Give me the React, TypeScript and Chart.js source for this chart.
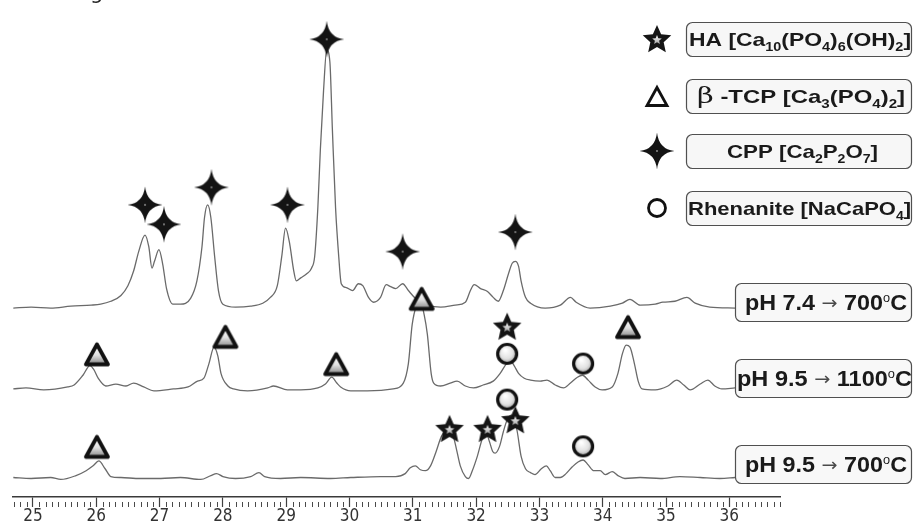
import React, { useEffect, useRef } from "react";
import { Chart, registerables } from "chart.js";

Chart.register(...registerables);

// ---------- axis ----------
const X_MIN = 24.685;
const X_MAX = 36.8;
const TICK_LABELS = ["25", "26", "27", "28", "29", "30", "31", "32", "33", "34", "35", "36"];
const Y_MAX = 497;

// ---------- patterns (2θ in degrees, intensity above own baseline, a.u.) ----------
const PATTERN_LABELS = ["pH 7.4 !{→} 700^{o}C", "pH 9.5 !{→} 1100^{o}C", "pH 9.5 !{→} 700^{o}C"];
const PATTERN_OFFSETS = [196, 111, 20];

const THETA_74_700 = [24.69, 24.97, 25.28, 25.6, 25.92, 26.07, 26.23, 26.39, 26.5, 26.59, 26.67, 26.77, 26.83, 26.88, 26.92, 26.99, 27.05, 27.11, 27.21, 27.33, 27.49, 27.59, 27.67, 27.71, 27.76, 27.81, 27.87, 27.93, 28.0, 28.2, 28.44, 28.63, 28.75, 28.86, 28.93, 28.99, 29.05, 29.12, 29.16, 29.23, 29.32, 29.4, 29.45, 29.5, 29.54, 29.59, 29.64, 29.69, 29.73, 29.78, 29.83, 29.87, 29.95, 30.05, 30.14, 30.21, 30.3, 30.38, 30.49, 30.58, 30.65, 30.73, 30.84, 30.93, 31.04, 31.12, 31.23, 31.44, 31.67, 31.83, 31.91, 31.97, 32.07, 32.18, 32.27, 32.35, 32.43, 32.51, 32.57, 32.62, 32.67, 32.71, 32.78, 32.86, 33.09, 33.33, 33.49, 33.58, 33.8, 34.12, 34.31, 34.43, 34.59, 34.83, 34.95, 35.14, 35.33, 35.46, 35.69, 36.09];
const INT_74_700 = [-2, -1, -2, 0, 1, 2, 5, 11, 21, 36, 56, 73, 61, 39, 46, 58, 43, 18, 2, 2, 8, 26, 61, 91, 104, 91, 51, 16, 2, -1, 0, 3, 9, 21, 51, 80, 66, 36, 26, 29, 33, 39, 51, 101, 161, 221, 263, 251, 181, 101, 51, 23, 19, 16, 23, 21, 9, 4, 9, 22, 20, 18, 23, 16, 8, 4, 1, -1, 1, 4, 16, 22, 18, 15, 9, 5, 16, 33, 44, 46, 41, 26, 9, 3, -2, 1, 9, 4, -2, 0, 3, 7, 1, 2, 4, 5, 9, 3, -1, -2];

const THETA_95_1100 = [24.69, 24.89, 25.17, 25.55, 25.65, 25.79, 25.9, 25.96, 26.03, 26.15, 26.31, 26.47, 26.59, 26.75, 26.91, 27.22, 27.45, 27.6, 27.7, 27.78, 27.86, 27.92, 27.97, 28.08, 28.17, 28.39, 28.71, 28.8, 29.02, 29.23, 29.5, 29.62, 29.72, 29.8, 29.86, 30.02, 30.28, 30.69, 30.85, 30.93, 30.99, 31.06, 31.12, 31.18, 31.23, 31.29, 31.33, 31.44, 31.59, 31.7, 31.83, 31.96, 32.11, 32.27, 32.38, 32.48, 32.54, 32.6, 32.67, 32.76, 32.86, 33.01, 33.12, 33.25, 33.38, 33.49, 33.6, 33.68, 33.77, 33.88, 33.99, 34.15, 34.24, 34.31, 34.37, 34.43, 34.5, 34.56, 34.62, 34.83, 35.03, 35.17, 35.28, 35.38, 35.54, 35.66, 35.77, 35.88, 36.09];
const INT_95_1100 = [0, 1, -1, 2, 4, 14, 24, 20, 11, 3, 5, 3, 6, 2, -2, 0, 2, 8, 11, 26, 43, 34, 16, 3, 0, -2, 1, 3, -1, -1, 1, 5, 12, 6, 2, -2, -2, 0, 6, 26, 66, 86, 90, 76, 56, 16, 6, 3, 6, 8, 3, 1, 4, 8, 16, 26, 29, 24, 16, 11, 9, 8, 9, 4, 1, 6, 12, 14, 9, 2, -1, 2, 16, 36, 45, 43, 26, 8, 0, -1, 3, 9, 4, -1, 5, 9, 3, 0, 1];

const THETA_95_700 = [24.69, 24.97, 25.28, 25.44, 25.68, 25.84, 25.95, 26.04, 26.14, 26.23, 26.39, 26.7, 27.02, 27.33, 27.65, 27.81, 27.9, 28.0, 28.2, 28.44, 28.57, 28.66, 28.91, 29.23, 29.7, 30.02, 30.49, 30.73, 30.88, 30.96, 31.04, 31.12, 31.2, 31.28, 31.37, 31.45, 31.53, 31.58, 31.63, 31.69, 31.75, 31.83, 31.88, 31.94, 32.02, 32.1, 32.16, 32.21, 32.26, 32.3, 32.37, 32.43, 32.49, 32.56, 32.6, 32.65, 32.71, 32.78, 32.86, 32.93, 33.03, 33.11, 33.17, 33.25, 33.33, 33.42, 33.52, 33.61, 33.69, 33.77, 33.86, 33.96, 34.04, 34.15, 34.24, 34.35, 34.59, 34.91, 35.22, 35.54, 35.85, 36.09];
const INT_95_700 = [0, -1, 0, -2, 2, 7, 12, 17, 9, 1, 0, -1, -1, 0, -2, 2, 4, 1, -1, 1, 5, 1, -1, 0, -1, 0, 1, 1, 4, 10, 12, 8, 7, 12, 27, 42, 49, 51, 45, 29, 12, 1, -1, 7, 22, 40, 45, 37, 27, 25, 32, 47, 59, 64, 61, 47, 22, 9, 5, 3, 9, 12, 7, 0, 0, 4, 11, 16, 18, 13, 7, 7, 3, 6, 2, -1, 0, -1, 1, 0, -1, 0];

// ---------- phase markers: 2θ, pattern index, height above baseline ----------
const PHASE_LABELS = [
  "HA [Ca_{10}(PO_{4})_{6}(OH)_{2}]",
  "~{β} -TCP [Ca_{3}(PO_{4})_{2}]",
  "CPP [Ca_{2}P_{2}O_{7}]",
  "Rhenanite [NaCaPO_{4}]",
];
const HA_THETA = [32.49, 31.58, 32.18, 32.62];
const HA_PATTERN = [1, 2, 2, 2];
const HA_HEIGHT = [64, 50, 50, 59];

const TCP_THETA = [26.01, 28.04, 29.79, 31.14, 34.4, 26.01];
const TCP_PATTERN = [1, 1, 1, 1, 1, 2];
const TCP_HEIGHT = [36, 54, 26, 93, 64, 32];

const CPP_THETA = [26.77, 27.07, 27.82, 29.02, 29.64, 30.84, 32.62];
const CPP_PATTERN = [0, 0, 0, 0, 0, 0, 0];
const CPP_HEIGHT = [104, 84, 122, 104, 274, 56, 76];

const RHE_THETA = [32.49, 33.69, 32.49, 33.69];
const RHE_PATTERN = [1, 1, 2, 2];
const RHE_HEIGHT = [36, 26, 80, 32];

// ---------- drawing helpers ----------
type Ctx = CanvasRenderingContext2D;

function makeCanvas(w: number, h: number, draw: (ctx: Ctx, w: number, h: number) => void) {
  const c = document.createElement("canvas");
  c.width = w;
  c.height = h;
  draw(c.getContext("2d") as Ctx, w, h);
  return c;
}

function starPath(ctx: Ctx, cx: number, cy: number, R: number, r: number) {
  ctx.beginPath();
  for (let i = 0; i < 10; i++) {
    const a = -Math.PI / 2 + (i * Math.PI) / 5;
    const rr = i % 2 === 0 ? R : r;
    const x = cx + rr * Math.cos(a);
    const y = cy + rr * Math.sin(a);
    if (i === 0) ctx.moveTo(x, y);
    else ctx.lineTo(x, y);
  }
  ctx.closePath();
}

function makeImages() {
  const cpp = makeCanvas(38, 40, (ctx, w, h) => {
    const cx = w / 2, cy = h / 2, rx = 17.5, ry = 18.5, k = 1.8;
    ctx.beginPath();
    ctx.moveTo(cx, cy - ry);
    ctx.quadraticCurveTo(cx + k, cy - k, cx + rx, cy);
    ctx.quadraticCurveTo(cx + k, cy + k, cx, cy + ry);
    ctx.quadraticCurveTo(cx - k, cy + k, cx - rx, cy);
    ctx.quadraticCurveTo(cx - k, cy - k, cx, cy - ry);
    ctx.closePath();
    ctx.fillStyle = "#141414";
    ctx.fill();
    ctx.fillStyle = "#9a9a9a";
    ctx.beginPath();
    ctx.arc(cx, cy, 0.9, 0, Math.PI * 2);
    ctx.fill();
  });
  const ha = makeCanvas(34, 34, (ctx, w, h) => {
    const cx = w / 2, cy = h / 2 + 1;
    starPath(ctx, cx, cy, 15, 7);
    ctx.fillStyle = "#151515";
    ctx.fill();
    starPath(ctx, cx, cy, 5, 2.2);
    const g = ctx.createLinearGradient(0, cy - 5, 0, cy + 5);
    g.addColorStop(0, "#ffffff");
    g.addColorStop(1, "#9a9a9a");
    ctx.fillStyle = g;
    ctx.fill();
  });
  const tri = makeCanvas(32, 30, (ctx, w, h) => {
    const cx = w / 2, cy = h / 2 + 1;
    ctx.beginPath();
    ctx.moveTo(cx, cy - 10.5);
    ctx.lineTo(cx + 11, cy + 9.5);
    ctx.lineTo(cx - 11, cy + 9.5);
    ctx.closePath();
    const g = ctx.createLinearGradient(0, cy - 8, 0, cy + 9);
    g.addColorStop(0, "#ffffff");
    g.addColorStop(0.5, "#e0e0e0");
    g.addColorStop(1, "#8c8c8c");
    ctx.fillStyle = g;
    ctx.fill();
    ctx.lineJoin = "round";
    ctx.lineWidth = 3.8;
    ctx.strokeStyle = "#111";
    ctx.stroke();
  });
  const circ = makeCanvas(26, 26, (ctx, w, h) => {
    const cx = w / 2, cy = h / 2;
    const g = ctx.createRadialGradient(cx - 2, cy - 4, 1, cx, cy, 10);
    g.addColorStop(0, "#ffffff");
    g.addColorStop(0.6, "#e2e2e2");
    g.addColorStop(1, "#9c9c9c");
    ctx.beginPath();
    ctx.arc(cx, cy, 9.5, 0, Math.PI * 2);
    ctx.fillStyle = g;
    ctx.fill();
    ctx.lineWidth = 3.2;
    ctx.strokeStyle = "#121212";
    ctx.stroke();
  });
  const triLegend = makeCanvas(30, 28, (ctx, w, h) => {
    const cx = w / 2, cy = h / 2 + 1;
    ctx.beginPath();
    ctx.moveTo(cx, cy - 9.5);
    ctx.lineTo(cx + 10, cy + 8.5);
    ctx.lineTo(cx - 10, cy + 8.5);
    ctx.closePath();
    ctx.fillStyle = "#ffffff";
    ctx.fill();
    ctx.lineJoin = "miter";
    ctx.lineWidth = 2.8;
    ctx.strokeStyle = "#111";
    ctx.stroke();
  });
  const circLegend = makeCanvas(26, 26, (ctx, w, h) => {
    ctx.beginPath();
    ctx.arc(w / 2, h / 2, 8.5, 0, Math.PI * 2);
    ctx.fillStyle = "#ffffff";
    ctx.fill();
    ctx.lineWidth = 2.8;
    ctx.strokeStyle = "#111";
    ctx.stroke();
  });
  return { cpp, ha, tri, circ, triLegend, circLegend };
}

const SANS = '"Liberation Sans", Arial, sans-serif';

function parseRich(s: string) {
  const segs: { t: string; k: string }[] = [];
  const re = /([_^~!])\{([^}]*)\}/g;
  let last = 0;
  let m: RegExpExecArray | null;
  while ((m = re.exec(s))) {
    if (m.index > last) segs.push({ t: s.slice(last, m.index), k: "n" });
    segs.push({ t: m[2], k: m[1] });
    last = re.lastIndex;
  }
  if (last < s.length) segs.push({ t: s.slice(last), k: "n" });
  return segs;
}

function segFont(k: string, size: number) {
  switch (k) {
    case "_":
      return { font: `bold ${Math.round(size * 0.62)}px ${SANS}`, dy: size * 0.27 };
    case "^":
      return { font: `${Math.round(size * 0.55)}px ${SANS}`, dy: -size * 0.36 };
    case "~":
      return { font: `${Math.round(size * 1.2)}px "DejaVu Serif", "Liberation Serif", serif`, dy: 0 };
    case "!":
      return { font: `${Math.round(size * 0.8)}px "DejaVu Sans", sans-serif`, dy: -size * 0.04 };
    default:
      return { font: `bold ${size}px ${SANS}`, dy: 0 };
  }
}

function drawRich(ctx: Ctx, s: string, x0: number, x1: number, yMid: number, size: number) {
  const segs = parseRich(s);
  const widths: number[] = [];
  let total = 0;
  segs.forEach((sg) => {
    ctx.font = segFont(sg.k, size).font;
    const w = ctx.measureText(sg.t).width;
    widths.push(w);
    total += w;
  });
  ctx.save();
  ctx.translate(x0, yMid);
  ctx.scale((x1 - x0) / total, 1);
  ctx.textAlign = "left";
  ctx.textBaseline = "alphabetic";
  let x = 0;
  const base = size * 0.36;
  segs.forEach((sg, i) => {
    const f = segFont(sg.k, size);
    ctx.font = f.font;
    ctx.fillStyle = sg.k === "!" ? "#4a4a4a" : "#1a1a1a";
    ctx.fillText(sg.t, x, base + f.dy);
    x += widths[i];
  });
  ctx.restore();
}

function roundRect(ctx: Ctx, x: number, y: number, w: number, h: number, r: number) {
  ctx.beginPath();
  ctx.moveTo(x + r, y);
  ctx.lineTo(x + w - r, y);
  ctx.arcTo(x + w, y, x + w, y + r, r);
  ctx.lineTo(x + w, y + h - r);
  ctx.arcTo(x + w, y + h, x + w - r, y + h, r);
  ctx.lineTo(x + r, y + h);
  ctx.arcTo(x, y + h, x, y + h - r, r);
  ctx.lineTo(x, y + r);
  ctx.arcTo(x, y, x + r, y, r);
  ctx.closePath();
}

function markerPoints(theta: number[], pattern: number[], height: number[]) {
  return theta.map((t, i) => ({ x: t, y: height[i] + PATTERN_OFFSETS[pattern[i]] }));
}

function tracePoints(theta: number[], intensity: number[], p: number) {
  return theta.map((t, i) => ({ x: t, y: intensity[i] + PATTERN_OFFSETS[p] }));
}

export default function App() {
  const ref = useRef<HTMLCanvasElement | null>(null);

  useEffect(() => {
    if (!ref.current) return;
    const img = makeImages();

    const overlay = {
      id: "overlay",
      afterDraw(chart: any) {
        const ctx: Ctx = chart.ctx;
        const xs = chart.scales.x;
        const bottom = chart.chartArea.bottom;
        ctx.save();
        // minor ticks every 0.1°
        ctx.strokeStyle = "#4a4a4a";
        ctx.lineWidth = 1;
        for (let i = 247; i <= 368; i++) {
          if (i % 10 === 0) continue;
          const px = Math.round(xs.getPixelForValue(i / 10)) + 0.5;
          ctx.beginPath();
          ctx.moveTo(px, bottom + 5);
          ctx.lineTo(px, bottom + 10);
          ctx.stroke();
        }

        // pattern label boxes
        const boxTops = [283, 359, 445];
        const textX = [[745, 907], [737, 912], [745, 907]];
        PATTERN_LABELS.forEach((lab, i) => {
          roundRect(ctx, 735.5, boxTops[i] + 0.5, 176, 38, 6);
          ctx.fillStyle = "#f8f8f8";
          ctx.fill();
          ctx.strokeStyle = "#505050";
          ctx.lineWidth = 1.2;
          ctx.stroke();
          drawRich(ctx, lab, textX[i][0], textX[i][1], boxTops[i] + 19, 22);
        });

        // phase legend
        const rowY = [39, 96, 151, 208];
        const symbols = [img.ha, img.triLegend, img.cpp, img.circLegend];
        const legX = [[689, 911], [697, 905], [727, 878], [688, 911]];
        PHASE_LABELS.forEach((lab, i) => {
          const s = symbols[i];
          ctx.drawImage(s, 657 - s.width / 2, rowY[i] - s.height / 2);
          roundRect(ctx, 686.5, rowY[i] - 17 + 0.5, 225, 34, 6);
          ctx.fillStyle = "#f7f7f7";
          ctx.fill();
          ctx.strokeStyle = "#505050";
          ctx.lineWidth = 1.2;
          ctx.stroke();
          drawRich(ctx, lab, legX[i][0], legX[i][1], rowY[i], 19);
        });

        // clipped caption fragment at the top edge
        ctx.fillStyle = "#222";
        ctx.font = `21px "DejaVu Sans", sans-serif`;
        ctx.textBaseline = "alphabetic";
        ctx.fillText("g", 90, -1);
        ctx.restore();
      },
    };

    const lineStyle = {
      borderColor: "#6a6a6a",
      borderWidth: 1.3,
      pointRadius: 0,
      cubicInterpolationMode: "monotone" as const,
      fill: false,
    };

    const markerDs = (label: string, data: any[], style: HTMLCanvasElement) => ({
      type: "scatter" as const,
      label,
      data,
      pointStyle: style,
      pointRadius: 12,
      pointHoverRadius: 12,
      showLine: false,
      clip: false as any,
    });

    const chart = new Chart(ref.current, {
      type: "line",
      data: {
        datasets: [
          markerDs("CPP", markerPoints(CPP_THETA, CPP_PATTERN, CPP_HEIGHT), img.cpp),
          markerDs("HA", markerPoints(HA_THETA, HA_PATTERN, HA_HEIGHT), img.ha),
          markerDs("TCP", markerPoints(TCP_THETA, TCP_PATTERN, TCP_HEIGHT), img.tri),
          markerDs("Rhenanite", markerPoints(RHE_THETA, RHE_PATTERN, RHE_HEIGHT), img.circ),
          { label: "pH 7.4 700", data: tracePoints(THETA_74_700, INT_74_700, 0), ...lineStyle },
          { label: "pH 9.5 1100", data: tracePoints(THETA_95_1100, INT_95_1100, 1), ...lineStyle },
          { label: "pH 9.5 700", data: tracePoints(THETA_95_700, INT_95_700, 2), ...lineStyle },
        ] as any,
      },
      options: {
        animation: false,
        responsive: false,
        devicePixelRatio: 1,
        parsing: false as any,
        layout: { padding: { left: 12, right: 133, top: 0, bottom: 0 } },
        plugins: { legend: { display: false }, tooltip: { enabled: false }, title: { display: false } },
        events: [],
        scales: {
          x: {
            type: "linear",
            min: X_MIN,
            max: X_MAX,
            afterFit: (s: any) => {
              s.height = 28;
            },
            border: { display: true, color: "#3a3a3a", width: 1.5 },
            grid: {
              display: true,
              drawOnChartArea: false,
              drawTicks: true,
              tickLength: 10,
              tickColor: "#3f3f3f",
              tickWidth: 1.2,
            },
            ticks: {
              stepSize: 1,
              includeBounds: false,
              autoSkip: false,
              maxRotation: 0,
              padding: -1,
              color: "#333",
              font: { family: '"Liberation Sans Narrow", "DejaVu Sans Condensed", sans-serif', size: 17 },
              callback: (v: any) => {
                const idx = Math.round(Number(v)) - 25;
                return TICK_LABELS[idx] ?? "";
              },
            },
          },
          y: { type: "linear", display: false, min: 0, max: Y_MAX },
        },
      } as any,
      plugins: [overlay],
    });
    return () => chart.destroy();
  }, []);

  return (
    <div style={{ position: "fixed", left: 0, top: 0, width: 913, height: 525, background: "#fff" }}>
      <canvas ref={ref} width={913} height={525} style={{ display: "block", width: 913, height: 525 }} />
    </div>
  );
}
